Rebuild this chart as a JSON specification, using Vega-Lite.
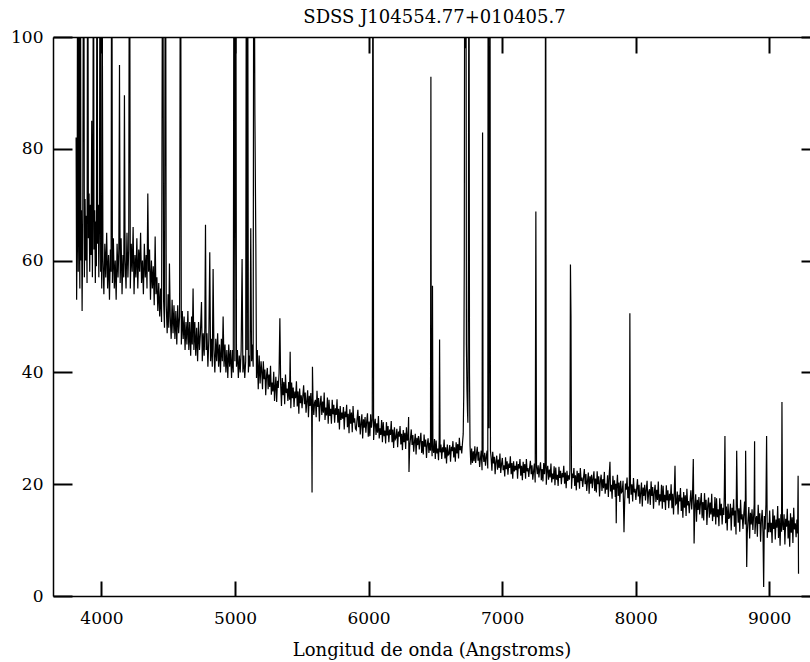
{
"$schema":"https://vega.github.io/schema/vega-lite/v6.json",
"width":757,"height":559,
"autosize":{"type":"none"},
"padding":{"left":53,"top":37,"right":0,"bottom":66},
"config":{"view":{"stroke":null},"font":"DejaVu Serif"},
"title":{"text":"SDSS J104554.77+010405.7","font":"DejaVu Serif","fontSize":18,"fontWeight":"normal","color":"black","offset":1,"anchor":"middle","dx":3},
"data":{"values":[
{"w":3810,"f":82},{"w":3814,"f":53},{"w":3818,"f":66},{"w":3822,"f":140},{"w":3826,"f":58},{"w":3830,"f":140},{"w":3834,"f":66},{"w":3838,"f":55},{"w":3842,"f":140},{"w":3846,"f":60},{"w":3850,"f":69},{"w":3855,"f":51},{"w":3860,"f":67},{"w":3867,"f":140},{"w":3872,"f":57},{"w":3877,"f":71},{"w":3882,"f":60},{"w":3887,"f":68},{"w":3892,"f":56},{"w":3897,"f":140},{"w":3902,"f":64},{"w":3907,"f":72},{"w":3912,"f":58},{"w":3917,"f":70},{"w":3922,"f":61},{"w":3927,"f":85},{"w":3932,"f":57},{"w":3936,"f":73},{"w":3940,"f":140},{"w":3944,"f":62},{"w":3949,"f":69},{"w":3954,"f":56},{"w":3958,"f":67},{"w":3962,"f":59},{"w":3967,"f":140},{"w":3971,"f":63},{"w":3976,"f":70},{"w":3980,"f":57},{"w":3985,"f":66},{"w":3990,"f":140},{"w":3994,"f":58},{"w":3998,"f":64},{"w":4002,"f":55},{"w":4004,"f":130},{"w":4007,"f":97},
{"w":4011,"f":60},{"w":4018,"f":54},{"w":4025,"f":63},{"w":4032,"f":57},{"w":4039,"f":65},{"w":4046,"f":55},{"w":4053,"f":61},{"w":4060,"f":53},{"w":4067,"f":62},{"w":4072,"f":58},{"w":4077,"f":140},{"w":4082,"f":56},{"w":4089,"f":64},{"w":4096,"f":55},{"w":4103,"f":60},{"w":4110,"f":53},{"w":4117,"f":63},{"w":4124,"f":57},{"w":4130,"f":62},{"w":4135,"f":95},{"w":4140,"f":56},{"w":4147,"f":64},{"w":4154,"f":54},{"w":4161,"f":61},{"w":4167,"f":57},{"w":4172,"f":89.6},{"w":4177,"f":60},{"w":4184,"f":55},{"w":4191,"f":65},{"w":4198,"f":57},{"w":4204,"f":62},{"w":4210,"f":140},{"w":4216,"f":55},{"w":4223,"f":63},{"w":4230,"f":58},{"w":4237,"f":66},{"w":4244,"f":54},{"w":4251,"f":61},{"w":4258,"f":57},{"w":4265,"f":64},{"w":4272,"f":55},{"w":4279,"f":62},{"w":4286,"f":58},{"w":4293,"f":65},{"w":4300,"f":56},{"w":4307,"f":60},{"w":4314,"f":54},{"w":4321,"f":63},{"w":4328,"f":57},{"w":4335,"f":61},{"w":4341,"f":55},{"w":4347,"f":72},{"w":4353,"f":58},{"w":4360,"f":62},{"w":4367,"f":53},{"w":4374,"f":60},{"w":4381,"f":55},{"w":4388,"f":59},{"w":4395,"f":52},{"w":4402,"f":64.3},{"w":4408,"f":54},{"w":4415,"f":57},{"w":4422,"f":51},{"w":4429,"f":56},{"w":4436,"f":50},{"w":4443,"f":55},{"w":4450,"f":49},{"w":4459,"f":140},{"w":4465,"f":53},{"w":4472,"f":48},{"w":4479,"f":140},{"w":4485,"f":52},{"w":4492,"f":47},{"w":4499,"f":54},{"w":4504,"f":48},{"w":4509,"f":59.5},{"w":4515,"f":50},{"w":4522,"f":46},{"w":4529,"f":53},{"w":4536,"f":47},{"w":4543,"f":52},{"w":4550,"f":46},{"w":4557,"f":51},{"w":4564,"f":45},{"w":4571,"f":52},{"w":4578,"f":47},{"w":4585,"f":50},{"w":4592,"f":140},{"w":4598,"f":45},{"w":4605,"f":51},{"w":4612,"f":46},{"w":4619,"f":50},{"w":4626,"f":44},{"w":4633,"f":49},{"w":4640,"f":45},{"w":4647,"f":51},{"w":4654,"f":44},{"w":4661,"f":49},{"w":4668,"f":43},{"w":4675,"f":50},{"w":4680,"f":45},{"w":4686,"f":55},{"w":4692,"f":44},{"w":4699,"f":49},{"w":4706,"f":43},{"w":4713,"f":48},{"w":4720,"f":42},{"w":4727,"f":49},{"w":4734,"f":44},{"w":4741,"f":47},{"w":4749,"f":52.6},{"w":4755,"f":42},{"w":4762,"f":47},{"w":4769,"f":43},{"w":4774,"f":48},{"w":4779,"f":66.4},{"w":4784,"f":44},{"w":4790,"f":47},{"w":4797,"f":41},{"w":4804,"f":46},{"w":4811,"f":61.5},{"w":4817,"f":42},{"w":4824,"f":46},{"w":4830,"f":41},{"w":4836,"f":58.5},{"w":4842,"f":44},{"w":4849,"f":40},{"w":4856,"f":46},{"w":4863,"f":42},{"w":4870,"f":47},{"w":4877,"f":41},{"w":4884,"f":45},{"w":4891,"f":40},{"w":4898,"f":46},{"w":4905,"f":42},{"w":4911,"f":50},{"w":4918,"f":41},{"w":4925,"f":45},{"w":4932,"f":40},{"w":4939,"f":44},{"w":4946,"f":39},{"w":4953,"f":45},{"w":4960,"f":41},{"w":4967,"f":44},{"w":4974,"f":39},{"w":4981,"f":44},{"w":4987,"f":40},{"w":4993,"f":140},{"w":4999,"f":42},{"w":5005,"f":140},{"w":5011,"f":41},{"w":5018,"f":44},{"w":5025,"f":39},{"w":5032,"f":43},{"w":5039,"f":40},{"w":5046,"f":44},{"w":5053,"f":60.3},{"w":5059,"f":40},{"w":5066,"f":43},{"w":5073,"f":39},{"w":5080,"f":42},{"w":5086,"f":140},{"w":5090,"f":44},{"w":5094,"f":140},{"w":5100,"f":40},{"w":5106,"f":43},{"w":5112,"f":41},{"w":5118,"f":65.8},{"w":5124,"f":42},{"w":5130,"f":45},{"w":5136,"f":41},{"w":5141,"f":140},{"w":5149,"f":86},{"w":5156,"f":63},{"w":5161,"f":39},{"w":5167,"f":44},{"w":5174,"f":37},{"w":5181,"f":43},{"w":5188,"f":38},{"w":5195,"f":42},
{"w":5200,"f":40.4},{"w":5206,"f":37.0},{"w":5212,"f":42.0},{"w":5218,"f":38.8},{"w":5224,"f":40.5},{"w":5230,"f":35.9},{"w":5236,"f":39.4},{"w":5242,"f":40.8},{"w":5248,"f":37.0},{"w":5254,"f":39.6},{"w":5260,"f":37.4},{"w":5266,"f":41.2},{"w":5272,"f":36.0},{"w":5278,"f":38.2},{"w":5284,"f":36.6},{"w":5290,"f":40.1},{"w":5296,"f":34.9},
{"w":5300,"f":36.9},{"w":5306,"f":39.2},{"w":5312,"f":34.7},{"w":5318,"f":38.5},{"w":5324,"f":37.2},{"w":5330,"f":39.9},{"w":5336,"f":49.7},{"w":5342,"f":37.9},{"w":5348,"f":34.0},{"w":5354,"f":39.0},{"w":5360,"f":35.9},{"w":5366,"f":38.3},{"w":5372,"f":34.3},{"w":5378,"f":39.6},{"w":5384,"f":36.3},{"w":5390,"f":37.1},{"w":5396,"f":34.9},
{"w":5402,"f":38.3},{"w":5408,"f":35.1},{"w":5413,"f":43.7},{"w":5418,"f":33.6},{"w":5424,"f":38.2},{"w":5430,"f":35.4},{"w":5436,"f":37.3},{"w":5442,"f":33.8},{"w":5448,"f":36.6},{"w":5454,"f":35.4},{"w":5460,"f":38.4},{"w":5466,"f":33.9},{"w":5472,"f":36.6},{"w":5478,"f":32.6},{"w":5484,"f":37.1},{"w":5490,"f":34.5},{"w":5496,"f":35.9},
{"w":5502,"f":33.6},{"w":5508,"f":35.8},{"w":5514,"f":37.7},{"w":5520,"f":34.3},{"w":5526,"f":36.4},{"w":5532,"f":32.8},{"w":5538,"f":34.9},{"w":5544,"f":36.8},{"w":5550,"f":32.0},{"w":5556,"f":35.8},{"w":5562,"f":34.0},{"w":5568,"f":36.3},{"w":5574,"f":33.0},{"w":5577,"f":18.5},{"w":5580,"f":41},{"w":5584,"f":35.2},{"w":5590,"f":32.4},{"w":5596,"f":34.6},
{"w":5602,"f":35.1},{"w":5608,"f":32.0},{"w":5614,"f":36.7},{"w":5620,"f":33.8},{"w":5626,"f":35.4},{"w":5632,"f":31.2},{"w":5638,"f":34.5},{"w":5644,"f":35.8},{"w":5650,"f":32.4},{"w":5656,"f":34.8},{"w":5662,"f":32.8},{"w":5668,"f":36.4},{"w":5674,"f":31.5},{"w":5680,"f":33.7},{"w":5686,"f":32.3},{"w":5692,"f":35.5},{"w":5698,"f":30.8},
{"w":5704,"f":35.1},{"w":5710,"f":32.2},{"w":5716,"f":33.5},{"w":5722,"f":30.8},{"w":5728,"f":35.1},{"w":5734,"f":32.5},{"w":5740,"f":34.2},{"w":5746,"f":31.0},{"w":5752,"f":33.6},{"w":5758,"f":32.4},{"w":5764,"f":35.2},{"w":5770,"f":31.0},{"w":5776,"f":33.5},{"w":5782,"f":29.8},{"w":5788,"f":34.0},{"w":5794,"f":31.5},{"w":5800,"f":32.8},
{"w":5806,"f":31.7},{"w":5812,"f":33.8},{"w":5818,"f":29.8},{"w":5824,"f":33.0},{"w":5830,"f":32.0},{"w":5836,"f":34.2},{"w":5842,"f":30.2},{"w":5848,"f":32.6},{"w":5854,"f":29.1},{"w":5860,"f":33.4},{"w":5866,"f":30.8},{"w":5872,"f":32.8},{"w":5878,"f":29.3},{"w":5884,"f":34.0},{"w":5890,"f":31.0},{"w":5896,"f":31.8},{"w":5902,"f":29.9},
{"w":5908,"f":29.7},{"w":5914,"f":31.6},{"w":5920,"f":33.3},{"w":5926,"f":30.2},{"w":5932,"f":32.2},{"w":5938,"f":28.9},{"w":5944,"f":30.8},{"w":5950,"f":32.5},{"w":5956,"f":28.2},{"w":5962,"f":31.6},{"w":5968,"f":30.1},{"w":5974,"f":32.0},{"w":5980,"f":29.2},{"w":5986,"f":31.2},{"w":5992,"f":32.7},{"w":5998,"f":28.5},
{"w":6004,"f":31.2},{"w":6010,"f":28.6},{"w":6016,"f":32.5},{"w":6022,"f":30.1},{"w":6028,"f":31.5},{"w":6033,"f":140},{"w":6038,"f":27.9},{"w":6044,"f":30.6},{"w":6050,"f":31.7},{"w":6056,"f":28.8},{"w":6062,"f":30.9},{"w":6068,"f":29.2},{"w":6074,"f":32.2},{"w":6080,"f":28.2},{"w":6086,"f":30.0},{"w":6092,"f":28.8},{"w":6098,"f":31.5},{"w":6104,"f":27.5},
{"w":6110,"f":31.1},{"w":6116,"f":28.6},{"w":6122,"f":29.6},{"w":6128,"f":27.3},{"w":6134,"f":31.1},{"w":6140,"f":28.7},{"w":6146,"f":30.4},{"w":6152,"f":27.5},{"w":6158,"f":29.8},{"w":6164,"f":28.8},{"w":6170,"f":31.3},{"w":6176,"f":27.5},{"w":6182,"f":29.8},{"w":6188,"f":26.5},{"w":6194,"f":30.2},{"w":6200,"f":28.0},
{"w":6206,"f":28.3},{"w":6212,"f":29.9},{"w":6218,"f":26.6},{"w":6224,"f":29.4},{"w":6230,"f":28.5},{"w":6236,"f":30.4},{"w":6242,"f":27.1},{"w":6248,"f":29.0},{"w":6254,"f":26.1},{"w":6260,"f":29.7},{"w":6266,"f":27.5},{"w":6272,"f":29.2},{"w":6278,"f":26.3},{"w":6284,"f":30.2},{"w":6290,"f":27.8},{"w":6296,"f":28.3},{"w":6300,"f":32},{"w":6303,"f":22.2},
{"w":6308,"f":26.6},{"w":6314,"f":28.2},{"w":6320,"f":29.8},{"w":6326,"f":27.0},{"w":6332,"f":28.8},{"w":6338,"f":25.8},{"w":6344,"f":27.6},{"w":6350,"f":29.0},{"w":6356,"f":25.3},{"w":6362,"f":28.3},{"w":6368,"f":27.0},{"w":6374,"f":28.6},{"w":6380,"f":26.2},{"w":6386,"f":27.9},{"w":6392,"f":29.2},{"w":6398,"f":25.6},
{"w":6404,"f":27.7},{"w":6410,"f":25.3},{"w":6416,"f":28.9},{"w":6422,"f":26.7},{"w":6428,"f":28.0},{"w":6434,"f":24.7},{"w":6440,"f":27.2},{"w":6446,"f":28.2},{"w":6452,"f":25.6},{"w":6458,"f":27.4},{"w":6464,"f":26.0},{"w":6467,"f":92.9},{"w":6470,"f":28.6},{"w":6476,"f":25.0},{"w":6479,"f":55.5},{"w":6482,"f":26.6},{"w":6488,"f":25.6},{"w":6494,"f":28.1},{"w":6500,"f":24.5},
{"w":6506,"f":27.8},{"w":6512,"f":25.5},{"w":6518,"f":26.4},{"w":6524,"f":24.3},{"w":6529,"f":27.8},{"w":6532,"f":45.9},{"w":6536,"f":25.7},{"w":6542,"f":27.1},{"w":6548,"f":24.5},{"w":6554,"f":26.6},{"w":6560,"f":25.7},{"w":6566,"f":28.0},{"w":6572,"f":24.6},{"w":6578,"f":26.6},{"w":6584,"f":23.7},{"w":6590,"f":27.1},{"w":6596,"f":25.2},
{"w":6602,"f":25.4},{"w":6608,"f":27.0},{"w":6614,"f":24.0},{"w":6620,"f":26.7},{"w":6626,"f":25.9},{"w":6632,"f":27.7},{"w":6638,"f":24.8},{"w":6644,"f":26.6},{"w":6650,"f":24.0},{"w":6656,"f":27.5},{"w":6662,"f":25.5},{"w":6668,"f":27.2},{"w":6674,"f":24.6},{"w":6680,"f":28.3},{"w":6686,"f":26.1},{"w":6692,"f":26.8},{"w":6698,"f":25.5},{"w":6704,"f":27.5},{"w":6709,"f":29},{"w":6713,"f":36},{"w":6717,"f":60},{"w":6721,"f":140},{"w":6725,"f":98},{"w":6729,"f":140},{"w":6733,"f":45},{"w":6737,"f":37},{"w":6741,"f":33},{"w":6744,"f":31},{"w":6748,"f":60},{"w":6752,"f":140},{"w":6756,"f":40},{"w":6760,"f":27},{"w":6766,"f":23.5},
{"w":6772,"f":26.4},{"w":6778,"f":23.8},{"w":6784,"f":25.9},{"w":6790,"f":24.1},{"w":6796,"f":26.8},
{"w":6802,"f":23.8},{"w":6808,"f":25.3},{"w":6814,"f":26.7},{"w":6820,"f":24.2},{"w":6826,"f":25.8},{"w":6832,"f":23.1},{"w":6838,"f":24.6},{"w":6844,"f":26.0},{"w":6850,"f":22.5},{"w":6854,"f":82.9},{"w":6858,"f":25.3},{"w":6864,"f":24.0},{"w":6870,"f":25.6},{"w":6876,"f":23.3},{"w":6882,"f":24.9},{"w":6888,"f":26.0},{"w":6893,"f":22.8},{"w":6896,"f":140},{"w":6902,"f":30},{"w":6906,"f":60},{"w":6909,"f":140},{"w":6913,"f":26},
{"w":6918,"f":24.7},{"w":6924,"f":22.4},{"w":6930,"f":25.8},{"w":6936,"f":23.7},{"w":6942,"f":24.9},{"w":6948,"f":21.8},{"w":6954,"f":24.1},{"w":6960,"f":25.1},{"w":6966,"f":22.6},{"w":6972,"f":24.4},{"w":6978,"f":22.9},{"w":6984,"f":25.5},{"w":6990,"f":22.0},{"w":6996,"f":23.6},
{"w":7002,"f":24.7},{"w":7008,"f":22.5},{"w":7014,"f":23.4},{"w":7020,"f":21.4},{"w":7026,"f":24.8},{"w":7032,"f":22.7},{"w":7038,"f":24.1},{"w":7044,"f":21.7},{"w":7050,"f":23.7},{"w":7056,"f":22.9},{"w":7062,"f":25.0},{"w":7068,"f":21.8},{"w":7074,"f":23.8},{"w":7080,"f":21.0},{"w":7086,"f":24.1},{"w":7092,"f":22.3},{"w":7098,"f":23.3},
{"w":7104,"f":22.5},{"w":7110,"f":24.1},{"w":7116,"f":21.0},{"w":7122,"f":23.6},{"w":7128,"f":22.8},{"w":7134,"f":24.5},{"w":7140,"f":21.5},{"w":7146,"f":23.3},{"w":7152,"f":20.7},{"w":7158,"f":24.0},{"w":7164,"f":22.0},{"w":7170,"f":23.6},{"w":7176,"f":21.0},{"w":7182,"f":24.5},{"w":7188,"f":22.3},{"w":7194,"f":22.9},
{"w":7200,"f":21.3},{"w":7206,"f":22.9},{"w":7212,"f":24.2},{"w":7218,"f":21.8},{"w":7224,"f":23.4},{"w":7230,"f":20.8},{"w":7236,"f":22.3},{"w":7242,"f":23.7},{"w":7248,"f":20.3},{"w":7253,"f":68.8},{"w":7258,"f":23.1},{"w":7264,"f":21.8},{"w":7270,"f":23.4},{"w":7276,"f":21.2},{"w":7282,"f":22.8},{"w":7288,"f":23.9},{"w":7294,"f":20.7},
{"w":7300,"f":22.7},{"w":7306,"f":20.5},{"w":7312,"f":23.8},{"w":7318,"f":21.8},{"w":7322,"f":23.0},{"w":7326,"f":140},{"w":7331,"f":19.9},{"w":7336,"f":22.3},{"w":7342,"f":23.3},{"w":7348,"f":20.8},{"w":7354,"f":22.6},{"w":7360,"f":21.2},{"w":7366,"f":23.7},{"w":7372,"f":20.3},{"w":7378,"f":21.9},{"w":7384,"f":20.9},{"w":7390,"f":23.2},{"w":7396,"f":19.8},
{"w":7402,"f":23.0},{"w":7408,"f":20.8},{"w":7414,"f":21.7},{"w":7420,"f":19.7},{"w":7426,"f":23.1},{"w":7432,"f":21.1},{"w":7438,"f":22.4},{"w":7444,"f":20.0},{"w":7450,"f":22.0},{"w":7456,"f":21.2},{"w":7462,"f":23.3},{"w":7468,"f":20.1},{"w":7474,"f":22.1},{"w":7480,"f":19.3},{"w":7486,"f":22.4},{"w":7492,"f":20.6},{"w":7498,"f":21.6},
{"w":7504,"f":20.8},{"w":7508,"f":22.5},{"w":7512,"f":59.3},{"w":7516,"f":50.1},{"w":7520,"f":19.2},{"w":7526,"f":21.9},{"w":7532,"f":21.1},{"w":7538,"f":22.9},{"w":7544,"f":19.7},{"w":7550,"f":21.6},{"w":7556,"f":18.9},{"w":7562,"f":22.4},{"w":7568,"f":20.3},{"w":7574,"f":22.0},{"w":7580,"f":19.2},{"w":7586,"f":22.9},{"w":7592,"f":20.6},{"w":7598,"f":21.2},
{"w":7604,"f":19.5},{"w":7610,"f":21.2},{"w":7616,"f":22.7},{"w":7622,"f":20.0},{"w":7628,"f":21.8},{"w":7634,"f":18.8},{"w":7640,"f":20.6},{"w":7646,"f":22.1},{"w":7652,"f":18.3},{"w":7658,"f":21.4},{"w":7664,"f":20.1},{"w":7670,"f":21.7},{"w":7676,"f":19.3},{"w":7682,"f":21.1},{"w":7688,"f":22.3},{"w":7694,"f":18.8},
{"w":7700,"f":21.0},{"w":7706,"f":18.5},{"w":7712,"f":22.3},{"w":7718,"f":20.0},{"w":7724,"f":21.4},{"w":7730,"f":17.8},{"w":7736,"f":20.6},{"w":7742,"f":21.7},{"w":7748,"f":18.8},{"w":7754,"f":20.9},{"w":7760,"f":19.3},{"w":7766,"f":22.2},{"w":7772,"f":18.3},{"w":7778,"f":20.1},{"w":7784,"f":19.0},{"w":7790,"f":21.6},{"w":7796,"f":17.7},
{"w":7802,"f":21.5},{"w":7808,"f":24},{"w":7812,"f":18.7},{"w":7818,"f":19.9},{"w":7824,"f":17.4},{"w":7830,"f":21.5},{"w":7836,"f":19.0},{"w":7842,"f":20.7},{"w":7848,"f":17.7},{"w":7852,"f":20.1},{"w":7855,"f":13},{"w":7858,"f":19.2},{"w":7864,"f":21.7},{"w":7870,"f":17.9},{"w":7876,"f":20.3},{"w":7882,"f":16.8},{"w":7888,"f":20.6},{"w":7894,"f":18.5},
{"w":7900,"f":18.7},{"w":7906,"f":20.6},{"w":7913,"f":11.4},{"w":7918,"f":16.9},{"w":7924,"f":20.1},{"w":7930,"f":19.0},{"w":7936,"f":21.2},{"w":7942,"f":17.5},{"w":7948,"f":19.6},{"w":7953,"f":16.5},{"w":7957,"f":50.6},{"w":7961,"f":20.5},{"w":7966,"f":18.1},{"w":7972,"f":20.0},{"w":7978,"f":16.9},{"w":7984,"f":21.1},{"w":7990,"f":18.5},{"w":7996,"f":19.2},
{"w":8002,"f":17.2},{"w":8008,"f":19.2},{"w":8014,"f":20.9},{"w":8020,"f":17.8},{"w":8026,"f":19.9},{"w":8032,"f":16.5},{"w":8038,"f":18.5},{"w":8044,"f":20.3},{"w":8050,"f":16.0},{"w":8056,"f":19.4},{"w":8062,"f":17.9},{"w":8068,"f":19.9},{"w":8074,"f":17.1},{"w":8080,"f":19.1},{"w":8086,"f":20.6},{"w":8092,"f":16.5},{"w":8098,"f":18.6},
{"w":8104,"f":19.1},{"w":8110,"f":16.3},{"w":8116,"f":20.5},{"w":8122,"f":17.9},{"w":8128,"f":19.5},{"w":8134,"f":15.6},{"w":8140,"f":18.6},{"w":8146,"f":19.9},{"w":8152,"f":16.8},{"w":8158,"f":19.0},{"w":8164,"f":17.2},{"w":8170,"f":20.5},{"w":8176,"f":16.2},{"w":8182,"f":18.2},{"w":8188,"f":16.9},{"w":8194,"f":19.9},{"w":8200,"f":15.6},
{"w":8206,"f":19.7},{"w":8212,"f":16.8},{"w":8218,"f":18.1},{"w":8224,"f":15.4},{"w":8230,"f":19.8},{"w":8236,"f":17.1},{"w":8242,"f":18.9},{"w":8248,"f":15.7},{"w":8254,"f":18.3},{"w":8260,"f":17.1},{"w":8266,"f":20.0},{"w":8272,"f":15.7},{"w":8278,"f":18.3},{"w":8284,"f":14.6},{"w":8290,"f":18.8},{"w":8295,"f":23.3},{"w":8300,"f":16.4},
{"w":8306,"f":16.6},{"w":8312,"f":18.7},{"w":8318,"f":14.6},{"w":8324,"f":18.1},{"w":8330,"f":16.9},{"w":8336,"f":19.3},{"w":8342,"f":15.2},{"w":8348,"f":17.6},{"w":8354,"f":14.0},{"w":8360,"f":18.6},{"w":8366,"f":15.8},{"w":8372,"f":18.0},{"w":8378,"f":14.3},{"w":8384,"f":19.2},{"w":8390,"f":16.2},{"w":8396,"f":17.0},
{"w":8402,"f":14.8},{"w":8408,"f":17.0},{"w":8414,"f":18.9},{"w":8420,"f":15.5},{"w":8426,"f":17.7},{"w":8432,"f":24.5},{"w":8438,"f":9.4},{"w":8444,"f":16.2},{"w":8450,"f":18.2},{"w":8456,"f":13.3},{"w":8462,"f":17.2},{"w":8468,"f":15.4},{"w":8474,"f":17.7},{"w":8480,"f":14.6},{"w":8486,"f":16.7},{"w":8492,"f":18.4},{"w":8498,"f":13.9},
{"w":8504,"f":16.8},{"w":8510,"f":13.5},{"w":8516,"f":18.4},{"w":8522,"f":15.4},{"w":8528,"f":17.2},{"w":8534,"f":12.7},{"w":8540,"f":16.2},{"w":8546,"f":17.6},{"w":8552,"f":14.0},{"w":8558,"f":16.7},{"w":8564,"f":14.6},{"w":8570,"f":18.3},{"w":8576,"f":13.4},{"w":8582,"f":15.7},{"w":8588,"f":14.2},{"w":8594,"f":17.7},{"w":8600,"f":12.8},
{"w":8606,"f":17.5},{"w":8612,"f":14.1},{"w":8618,"f":15.5},{"w":8624,"f":12.5},{"w":8630,"f":17.5},{"w":8636,"f":14.4},{"w":8642,"f":16.5},{"w":8648,"f":12.8},{"w":8654,"f":15.8},{"w":8660,"f":14.5},{"w":8664,"f":17.8},{"w":8669,"f":28.6},{"w":8674,"f":13.0},{"w":8680,"f":16.0},{"w":8686,"f":11.7},{"w":8692,"f":16.5},{"w":8698,"f":13.8},
{"w":8704,"f":14.1},{"w":8710,"f":16.5},{"w":8716,"f":11.7},{"w":8722,"f":15.8},{"w":8728,"f":14.4},{"w":8734,"f":17.3},{"w":8740,"f":12.4},{"w":8746,"f":15.3},{"w":8752,"f":11.0},{"w":8757,"f":26},{"w":8762,"f":16.4},{"w":8768,"f":13.1},{"w":8774,"f":15.7},{"w":8780,"f":11.5},{"w":8786,"f":17.2},{"w":8792,"f":13.7},{"w":8798,"f":14.6},
{"w":8804,"f":12.0},{"w":8810,"f":14.6},{"w":8816,"f":16.9},{"w":8821,"f":12.8},{"w":8824,"f":26},{"w":8828,"f":15.4},{"w":8832,"f":5.2},{"w":8836,"f":11.1},{"w":8842,"f":13.7},{"w":8848,"f":15.9},{"w":8854,"f":10.3},{"w":8860,"f":14.9},{"w":8866,"f":12.8},{"w":8872,"f":15.5},{"w":8878,"f":11.8},{"w":8884,"f":14.4},{"w":8888,"f":16.4},{"w":8891,"f":27.7},{"w":8894,"f":11.1},{"w":8900,"f":13.7},
{"w":8906,"f":14.3},{"w":8912,"f":10.6},{"w":8918,"f":16.3},{"w":8924,"f":12.9},{"w":8930,"f":14.8},{"w":8936,"f":9.7},{"w":8942,"f":13.7},{"w":8948,"f":15.4},{"w":8954,"f":11.3},{"w":8959,"f":1.6},{"w":8964,"f":14.3},{"w":8970,"f":11.9},{"w":8976,"f":16.3},{"w":8981,"f":28.6},{"w":8986,"f":10.4},{"w":8992,"f":13.1},{"w":8998,"f":11.4},
{"w":9004,"f":15.3},{"w":9010,"f":11.4},{"w":9016,"f":13.1},{"w":9022,"f":9.5},{"w":9028,"f":15.5},{"w":9034,"f":12.0},{"w":9040,"f":14.4},{"w":9046,"f":10.1},{"w":9052,"f":13.7},{"w":9058,"f":12.2},{"w":9064,"f":16.1},{"w":9070,"f":10.4},{"w":9076,"f":13.9},{"w":9082,"f":9.0},{"w":9088,"f":14.6},{"w":9093,"f":11.5},{"w":9096,"f":34.7},{"w":9100,"f":13.2},
{"w":9106,"f":11.8},{"w":9112,"f":14.6},{"w":9118,"f":9.2},{"w":9124,"f":13.8},{"w":9130,"f":12.4},{"w":9136,"f":15.6},{"w":9142,"f":10.3},{"w":9148,"f":13.5},{"w":9154,"f":8.8},{"w":9160,"f":14.8},{"w":9166,"f":11.3},{"w":9172,"f":14.1},{"w":9178,"f":9.5},{"w":9184,"f":15.8},{"w":9190,"f":11.9},{"w":9196,"f":13.0},{"w":9202,"f":10.5},{"w":9208,"f":13.7},{"w":9213,"f":11.2},{"w":9217,"f":21.5},{"w":9220,"f":4}
]},
"layer":[
{"mark":{"type":"line","color":"black","strokeWidth":1.2,"clip":true},
 "encoding":{
  "x":{"field":"w","type":"quantitative","scale":{"domain":[3637,9306],"nice":false,"zero":false},
   "axis":{"orient":"bottom","values":[4000,5000,6000,7000,8000,9000],"format":"d","grid":false,"tickSize":-15,"tickWidth":2,"tickColor":"black","domainColor":"black","domainWidth":1.5,"labelPadding":29,"labelFont":"DejaVu Serif","labelFontSize":17,"labelColor":"black","labelFlush":false,"title":"Longitud de onda (Angstroms)","titleFont":"DejaVu Serif","titleFontSize":18,"titleFontWeight":"normal","titleColor":"black","titleY":59,"titleBaseline":"alphabetic"}},
  "y":{"field":"f","type":"quantitative","scale":{"domain":[0,100],"nice":false,"zero":false},
   "axis":{"orient":"left","values":[0,20,40,60,80,100],"grid":false,"tickSize":-19,"tickWidth":2,"tickColor":"black","domainColor":"black","domainWidth":1.5,"labelPadding":29,"labelFont":"DejaVu Serif","labelFontSize":17,"labelColor":"black","labelFlush":false,"title":null}}
 }},
{"mark":{"type":"point","opacity":0,"clip":true},
 "encoding":{
  "x":{"field":"w","type":"quantitative","scale":{"domain":[3637,9306],"nice":false,"zero":false},
   "axis":{"orient":"top","values":[4000,5000,6000,7000,8000,9000],"grid":false,"labels":false,"tickSize":-16,"tickWidth":2,"tickColor":"black","domainColor":"black","domainWidth":1.5,"title":null}},
  "y":{"field":"f","type":"quantitative","scale":{"domain":[0,100],"nice":false,"zero":false},
   "axis":{"orient":"right","values":[0,20,40,60,80,100],"grid":false,"labels":false,"domain":false,"tickSize":-9,"tickWidth":2,"tickColor":"black","title":null}}
 }}
],
"resolve":{"axis":{"x":"independent","y":"independent"}}
}
